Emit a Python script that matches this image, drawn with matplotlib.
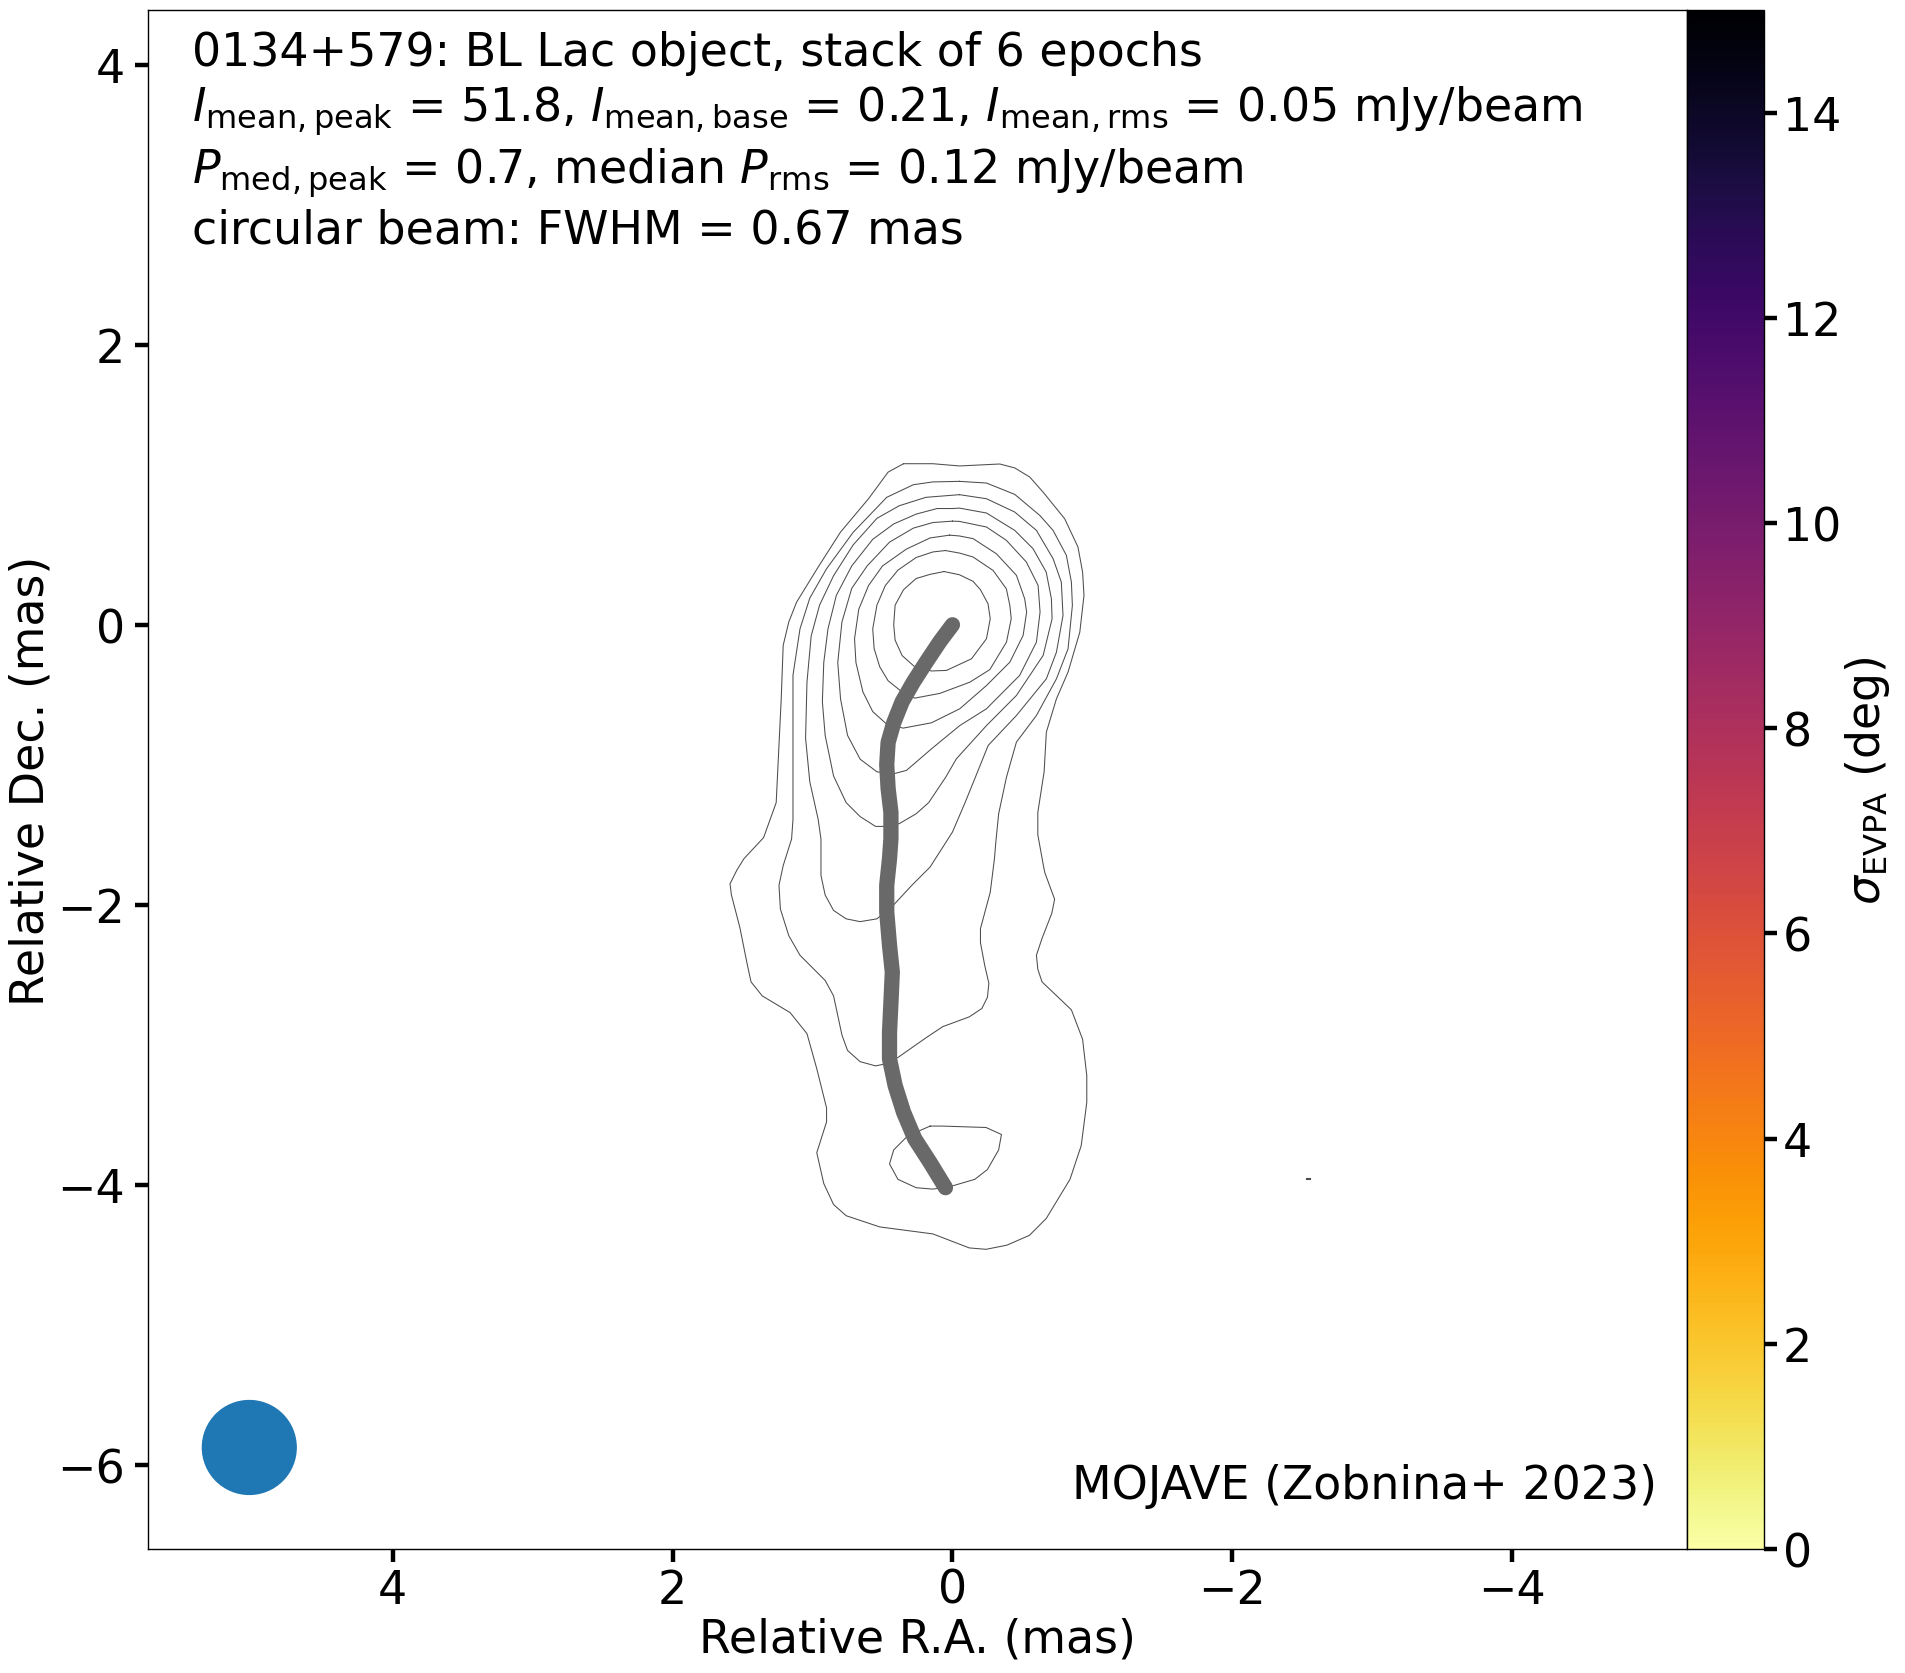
#!/usr/bin/env python3

"""
Stacked MOJAVE map of 0134+579 with ridge line and beam.
"""

import matplotlib

matplotlib.use("Agg")

import matplotlib.pyplot as plt
from matplotlib import cm, colors
from matplotlib.patches import Circle

FONT_SIZE = 33

# Contours in mas, innermost first (relative R.A., relative Dec.).
contour_1_x = [.06, -.05, -.147, -.20, -.254, -.27, -.243, -.136, .043, .15, .27, .36, .41, .42, .41, .35, .26, .16]
contour_1_y = [.38, .357, .31, .25, .15, .043, -.10, -.243, -.326, -.33, -.30, -.22, -.11, 0, .14, .25, .33, .36]

contour_2_x = [.05, -.05, -.147, -.29, -.385, -.41, -.42, -.386, -.267, -.124, .09, .27, .36, .46, .52, .56, .57, .54, .48, .39, .26, .14]
contour_2_y = [.53, .512, .484, .388, .257, .138, .043, -.124, -.32, -.41, -.49, -.524, -.48, -.40, -.30, -.17, -.03, .14, .28, .39, .48, .52]

contour_3_x = [.02, -.05, -.147, -.314, -.457, -.516, -.53, -.505, -.41, -.243, -.052, .15, .352, .47, .57, .64, .69, .70, .67, .60, .50, .33, .16]
contour_3_y = [.64, .634, .615, .507, .353, .186, .09, -.076, -.267, -.434, -.60, -.70, -.738, -.71, -.62, -.48, -.27, -.10, .11, .28, .42, .54, .62]

contour_4_x = [0, -.05, -.243, -.385, -.528, -.612, -.626, -.60, -.48, -.243, -.052, .15, .329, .424, .54, .66, .75, .80, .82, .79, .72, .61, .45, .28, .14]
contour_4_y = [.74, .738, .698, .603, .448, .281, .09, -.124, -.362, -.60, -.72, -.886, -1.04, -1.065, -1.05, -.96, -.79, -.53, -.27, .02, .26, .42, .59, .69, .73]

contour_5_x = [0, -.05, -.243, -.445, -.576, -.67, -.707, -.712, -.648, -.457, -.243, -.028, .048, .17, .26, .38, .50, .55, .66, .76, .85, .91, .93, .92, .89, .83, .72, .57, .42, .26, .11]
contour_5_y = [.83, .833, .798, .674, .543, .376, .186, .043, -.219, -.505, -.72, -.957, -1.088, -1.27, -1.35, -1.42, -1.44, -1.44, -1.37, -1.27, -1.08, -.79, -.55, -.27, -.03, .21, .42, .61, .72, .79, .83]

contour_6_x = [-.05, -.243, -.445, -.60, -.719, -.778, -.79, -.743, -.671, -.457, -.255, -.164, -.09, 0, .16, .29, .42, .54, .66, .76, .85, .91, .94, .94, .96, 1.02, 1.05, 1.04, 1.01, .95, .85, .71, .54, .38, .19]
contour_6_y = [.929, .90, .805, .674, .472, .305, .066, -.196, -.386, -.648, -.862, -1.088, -1.27, -1.48, -1.73, -1.86, -2.00, -2.10, -2.12, -2.10, -2.04, -1.93, -1.79, -1.53, -1.39, -1.12, -.81, -.41, -.08, .14, .35, .57, .76, .85, .91]

contour_7_x = [-.05, -.243, -.445, -.624, -.719, -.814, -.85, -.857, -.826, -.743, -.60, -.457, -.386, -.33, -.31, -.30, -.27, -.20, -.20, -.23, -.26, -.25, -.21, -.12, .07, .19, .39, .50, .55, .66, .75, .79, .82, .85, .91, 1.09, 1.17, 1.23, 1.24, 1.21, 1.15, 1.14, 1.14, 1.14, 1.09, 1.02, .90, .71, .47, .28, .14]
contour_7_y = [1.024, 1.012, .931, .781, .674, .496, .305, .138, -.172, -.386, -.648, -.838, -1.088, -1.35, -1.55, -1.67, -1.91, -2.17, -2.27, -2.43, -2.56, -2.66, -2.74, -2.80, -2.87, -2.95, -3.09, -3.14, -3.15, -3.12, -3.04, -2.93, -2.79, -2.65, -2.54, -2.36, -2.22, -2.03, -1.86, -1.72, -1.53, -1.39, -.89, -.36, -.03, .19, .40, .66, .91, 1.00, 1.02]

contour_8_x = [.35, .14, -.05, -.338, -.445, -.552, -.647, -.802, -.897, -.93, -.94, -.91, -.826, -.743, -.671, -.655, -.61, -.61, -.65, -.66, -.73, -.71, -.64, -.60, -.61, -.64, -.85, -.93, -.96, -.96, -.92, -.84, -.67, -.55, -.39, -.24, -.12, .14, .52, .76, .85, .92, .97, .90, .90, .97, 1.04, 1.16, 1.36, 1.44, 1.47, 1.52, 1.58, 1.59, 1.54, 1.49, 1.35, 1.26, 1.224, 1.21, 1.17, 1.114, .96, .80, .60, .46]
contour_8_y = [1.15, 1.15, 1.134, 1.148, 1.12, 1.055, .948, .757, .555, .376, .21, -.053, -.338, -.529, -.767, -1.05, -1.34, -1.50, -1.72, -1.77, -1.96, -2.06, -2.24, -2.36, -2.46, -2.55, -2.75, -2.96, -3.22, -3.41, -3.72, -3.96, -4.24, -4.36, -4.43, -4.46, -4.45, -4.35, -4.30, -4.22, -4.14, -3.99, -3.77, -3.55, -3.45, -3.17, -2.92, -2.77, -2.65, -2.55, -2.41, -2.16, -1.93, -1.85, -1.75, -1.67, -1.52, -1.27, -.528, -.147, .02, .162, .412, .662, .90, 1.09]

# Small closed contour in the lower lobe.
contour_9_x = [.16, .07, -.24, -.35, -.33, -.25, -.16, .01, .14, .26, .39, .45, .42, .32]
contour_9_y = [-3.58, -3.58, -3.59, -3.64, -3.75, -3.89, -3.96, -4.01, -4.03, -4.02, -3.96, -3.85, -3.75, -3.65]

# Speck of a contour far off the jet.
speck_x = [-2.535, -2.555]
speck_y = [-3.955, -3.955]

ridge_x = [0, .09, .19, .28, .36, .42, .46, .47, .46, .44, .44, .45, .47, .47, .45, .43, .44, .45, .45, .41, .35, .27, .16, .05]
ridge_y = [0, -.12, -.27, -.41, -.55, -.70, -.84, -1.00, -1.17, -1.34, -1.53, -1.67, -1.86, -2.05, -2.29, -2.48, -2.70, -2.91, -3.10, -3.29, -3.48, -3.67, -3.84, -4.02]

x_ticks = [4, 2, 0, -2, -4]
y_ticks = [4, 2, 0, -2, -4, -6]
colorbar_ticks = [0, 2, 4, 6, 8, 10, 12, 14]

beam_fwhm = 0.67
beam_center = (5.026, -5.875)

info_text = "\n".join(
    [
        "0134+579: BL Lac object, stack of 6 epochs",
        r"$I_\mathrm{mean,peak}$ = 51.8, $I_\mathrm{mean,base}$ = 0.21, "
        r"$I_\mathrm{mean,rms}$ = 0.05 mJy/beam",
        r"$P_\mathrm{med,peak}$ = 0.7, median $P_\mathrm{rms}$ = 0.12 mJy/beam",
        "circular beam: FWHM = 0.67 mas",
    ]
)


def closed(values):
    return list(values) + [values[0]]


def main() -> None:
    plt.rcParams["font.size"] = FONT_SIZE
    fig = plt.figure(figsize=(19.05, 16.74), dpi=100)

    width, height = 1905.0, 1674.0
    ax = fig.add_axes([148 / width, 1 - 1550 / height, 1539 / width, 1539 / height])
    cax = fig.add_axes([1687 / width, 1 - 1550 / height, 77 / width, 1539 / height])

    contours = [
        (contour_1_x, contour_1_y),
        (contour_2_x, contour_2_y),
        (contour_3_x, contour_3_y),
        (contour_4_x, contour_4_y),
        (contour_5_x, contour_5_y),
        (contour_6_x, contour_6_y),
        (contour_7_x, contour_7_y),
        (contour_8_x, contour_8_y),
        (contour_9_x, contour_9_y),
    ]
    for xs, ys in contours:
        ax.plot(closed(xs), closed(ys), color="#4d4d4d", lw=0.75, zorder=2)
    ax.plot(speck_x, speck_y, color="#4d4d4d", lw=1.5, zorder=2)

    ax.plot(
        ridge_x,
        ridge_y,
        color="dimgray",
        lw=11,
        solid_capstyle="round",
        solid_joinstyle="round",
        zorder=3,
    )

    ax.add_patch(Circle(beam_center, beam_fwhm / 2, color="C0", zorder=3))

    ax.set_xlim(5.75, -5.25)
    ax.set_ylim(-6.6, 4.39)
    ax.set_xticks(x_ticks)
    ax.set_yticks(y_ticks)
    ax.set_xlabel("Relative R.A. (mas)", labelpad=3)
    ax.set_ylabel("Relative Dec. (mas)", labelpad=2.5)
    ax.tick_params(length=9.5, width=3.2, pad=7)
    ax.tick_params(axis="x", pad=4)

    ax.text(0.0286, 0.987, info_text, transform=ax.transAxes, va="top", ha="left", linespacing=1.23)
    ax.text(0.9805, 0.0265, "MOJAVE (Zobnina+ 2023)", transform=ax.transAxes, va="bottom", ha="right")

    mappable = cm.ScalarMappable(norm=colors.Normalize(0, 15), cmap="inferno_r")
    colorbar = fig.colorbar(mappable, cax=cax)
    colorbar.set_ticks(colorbar_ticks)
    colorbar.set_label(r"$\sigma_\mathrm{EVPA}$ (deg)", labelpad=1)
    cax.tick_params(length=9.5, width=3.2, pad=4)

    for axis in (ax, cax):
        for spine in axis.spines.values():
            spine.set_linewidth(1.0)
    colorbar.outline.set_linewidth(1.0)

    fig.savefig("out.png", dpi=100)
    plt.close(fig)


if __name__ == "__main__":
    main()
